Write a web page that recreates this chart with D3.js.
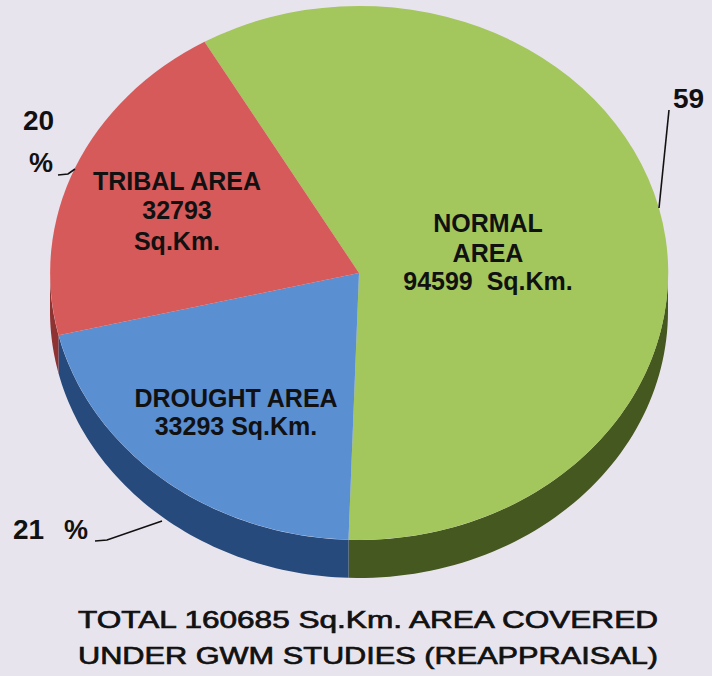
<!DOCTYPE html>
<html>
<head>
<meta charset="utf-8">
<script src="https://cdn.jsdelivr.net/npm/d3@7/dist/d3.min.js"></script>
<style>
  html, body { margin: 0; padding: 0; background: #e8e4ed; }
  svg { display: block; }
</style>
</head>
<body>
<svg id="chart" width="712" height="676"></svg>
<script>
// Area covered under GWM studies, by category (Sq.Km.)
const categories = ["NORMAL AREA", "DROUGHT AREA", "TRIBAL AREA"];
const areas = [94599, 33293, 32793];
const percents = [59, 21, 20];
const titleLines = [
  "TOTAL 160685 Sq.Km. AREA COVERED",
  "UNDER GWM STUDIES (REAPPRAISAL)"
];

const W = 712, H = 676;
const svg = d3.select("#chart");

svg.append("rect").attr("width", W).attr("height", H).attr("fill", "#e8e4ed");

// Tilted pie geometry
const cx = 359, cy = 273, rx = 309, ry = 267, depth = 38;
const topColors  = ["#a3c65d", "#5a8fd2", "#d65a5a"];
const sideColors = ["#44581f", "#274a7c", "#8e3232"];

const start = -30 * Math.PI / 180;
const pie = d3.pie().sort(null).startAngle(start).endAngle(start + 2 * Math.PI);
const slices = pie(areas);

// Point on the ellipse for a pie angle (0 = 12 o'clock, clockwise)
const ell = (a, dy = 0) => [cx + rx * Math.sin(a), cy - ry * Math.cos(a) + dy];

// Front side walls
const line = d3.line();
const sides = svg.append("g");
slices.forEach((s, i) => {
  const lo = Math.max(s.startAngle, Math.PI / 2);
  const hi = Math.min(s.endAngle, 3 * Math.PI / 2);
  if (hi <= lo) return;
  const steps = d3.range(0, 61).map(k => lo + (hi - lo) * k / 60);
  const pts = steps.map(a => ell(a)).concat(steps.slice().reverse().map(a => ell(a, depth)));
  sides.append("path")
    .attr("d", line(pts) + "Z")
    .attr("fill", sideColors[i]);
});

// Top faces
const arc = d3.arc().innerRadius(0).outerRadius(1);
svg.append("g")
  .attr("transform", `translate(${cx},${cy}) scale(${rx},${ry})`)
  .selectAll("path")
  .data(slices)
  .join("path")
  .attr("d", arc)
  .attr("fill", (d, i) => topColors[i]);

// Labels inside the slices
const fmt = v => String(v);
const inner = [
  { lines: ["NORMAL", "AREA", `${fmt(areas[0])}\u00a0\u00a0Sq.Km.`], x: 488, y: [232, 262, 290] },
  { lines: ["DROUGHT AREA", `${fmt(areas[1])} Sq.Km.`], x: 236, y: [407, 435] },
  { lines: ["TRIBAL AREA", fmt(areas[2]), "Sq.Km."], x: 177, y: [190, 219, 250] }
];
const lab = svg.append("g")
  .attr("font-family", "'Liberation Sans', Arial, sans-serif")
  .attr("font-weight", "bold")
  .attr("font-size", 25)
  .attr("fill", "#111")
  .attr("text-anchor", "middle");
inner.forEach(L => {
  L.lines.forEach((t, k) => {
    lab.append("text").attr("x", L.x).attr("y", L.y[k]).text(t);
  });
});

// Percentage call-outs with leader lines
const pg = svg.append("g")
  .attr("font-family", "'Liberation Sans', Arial, sans-serif")
  .attr("font-weight", "bold")
  .attr("font-size", 28)
  .attr("fill", "#111");

// Tribal: value over "%"
pg.append("text").attr("x", 23).attr("y", 130).text(fmt(percents[2]));
pg.append("text").attr("x", 29).attr("y", 172).attr("font-size", 27).text("%");
// Normal
pg.append("text").attr("x", 673).attr("y", 108).text(fmt(percents[0]));
// Drought
const t21 = pg.append("text").attr("x", 13).attr("y", 539);
t21.append("tspan").text(fmt(percents[1]));
t21.append("tspan").attr("x", 64).attr("font-size", 27).text("%");

const leaders = [
  [[58, 175], [68, 174], [75, 169]],
  [[669, 110], [659, 208]],
  [[95, 541], [107, 540], [162, 521]]
];
svg.append("g")
  .selectAll("path")
  .data(leaders)
  .join("path")
  .attr("d", d => line(d))
  .attr("fill", "none")
  .attr("stroke", "#111")
  .attr("stroke-width", 1.6);

// Title
const tg = svg.append("g")
  .attr("font-family", "'Liberation Sans', Arial, sans-serif")
  .attr("font-size", 24)
  .attr("fill", "#111")
  .attr("stroke", "#111")
  .attr("stroke-width", 0.7)
  .attr("text-anchor", "middle");
const titleY = [628, 664];
titleLines.forEach((t, k) => {
  tg.append("text")
    .attr("x", 368)
    .attr("y", titleY[k])
    .attr("textLength", 580)
    .attr("lengthAdjust", "spacingAndGlyphs")
    .text(t);
});
</script>
</body>
</html>
